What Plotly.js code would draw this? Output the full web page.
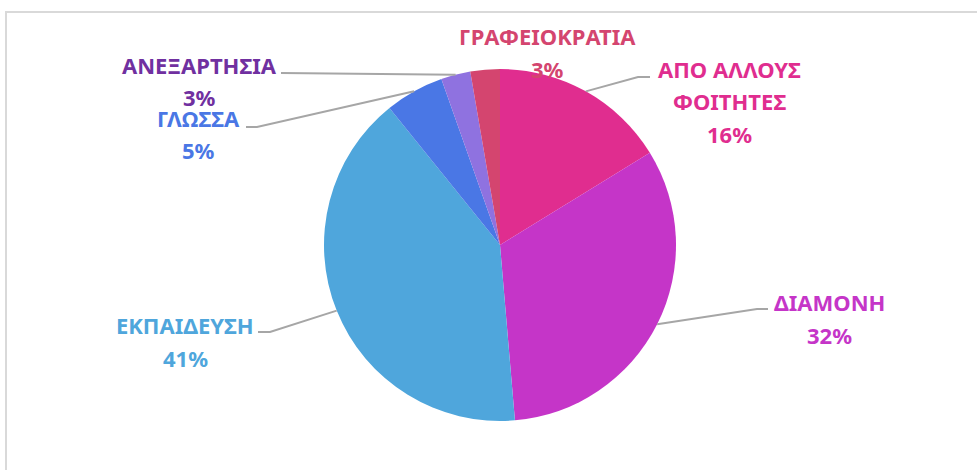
<!DOCTYPE html>
<html>
<head>
<meta charset="utf-8">
<script src="https://cdn.plot.ly/plotly-3.0.1.min.js"></script>
<style>
  html, body { margin: 0; padding: 0; background: #fff; overflow: hidden; }
  #frame { position: absolute; left: 5px; top: 11px; width: 990px; height: 480px;
           border-left: 2px solid #d9d9d9; border-top: 2px solid #d9d9d9; }
  #chart { position: absolute; left: 0; top: 0; width: 977px; height: 470px; }
</style>
</head>
<body>
<div id="frame"></div>
<div id="chart"></div>
<script>
// ---- data (counts; percentages shown are rounded) ----
const categories = ['ΑΠΟ ΑΛΛΟΥΣ ΦΟΙΤΗΤΕΣ', 'ΔΙΑΜΟΝΗ', 'ΕΚΠΑΙΔΕΥΣΗ', 'ΓΛΩΣΣΑ', 'ΑΝΕΞΑΡΤΗΣΙΑ', 'ΓΡΑΦΕΙΟΚΡΑΤΙΑ'];
const values = [6, 12, 15, 2, 1, 1];
const sliceColors = ['#E02D8F', '#C535C8', '#4FA6DC', '#4A77E5', '#8F72E0', '#D4456F'];
const textColors  = ['#E02D8F', '#C535C8', '#4FA6DC', '#4A77E5', '#7030A0', '#D4456F'];

// ---- layout constants (pixels) ----
const W = 977, H = 470;
const CX = 500, CY = 245, R = 176;
const px = x => x / W;
const py = y => 1 - y / H;

// label placement: centre x, first-line y, wrapped lines, leader elbow points (null = no leader)
const labelPos = [
  {x: 729, y: 69,  lines: ['ΑΠΟ ΑΛΛΟΥΣ', 'ΦΟΙΤΗΤΕΣ'], leader: [[650, 77], [638, 77]]},
  {x: 829, y: 302, lines: null, leader: [[768, 309], [757, 309]]},
  {x: 185, y: 325, lines: null, leader: [[258, 332], [270, 332]]},
  {x: 198, y: 118, lines: null, leader: [[246, 127], [257, 127]]},
  {x: 199, y: 65,  lines: null, leader: [[281, 73]]},
  {x: 547, y: 36,  lines: null, leader: null}
];
const lineGap = 32.5;
const FONT = 'Noto Sans, Open Sans, sans-serif';

const total = values.reduce((a, b) => a + b, 0);
const annotations = [];
const shapes = [];
let cum = 0;
categories.forEach((name, i) => {
  const mid = (cum + values[i] / 2) / total * 2 * Math.PI;
  cum += values[i];
  const lp = labelPos[i];
  const lines = (lp.lines || [name]).concat([Math.round(values[i] / total * 100) + '%']);
  lines.forEach((t, k) => {
    annotations.push({
      xref: 'paper', yref: 'paper', x: px(lp.x), y: py(lp.y + k * lineGap),
      xanchor: 'center', yanchor: 'middle', showarrow: false,
      text: '<b>' + t + '</b>',
      font: {family: FONT, size: 22, color: textColors[i]}
    });
  });
  if (lp.leader) {
    const ex = CX + R * Math.sin(mid), ey = CY - R * Math.cos(mid);
    const pts = lp.leader.concat([[ex, ey]]);
    const path = pts.map((p, k) => (k ? 'L' : 'M') + px(p[0]) + ',' + py(p[1])).join(' ');
    shapes.push({type: 'path', xref: 'paper', yref: 'paper', path: path,
                 line: {color: '#A6A6A6', width: 2}});
  }
});

const trace = {
  type: 'pie',
  labels: categories,
  values: values,
  sort: false,
  direction: 'clockwise',
  rotation: 0,
  textinfo: 'none',
  hoverinfo: 'label+percent',
  marker: {colors: sliceColors, line: {width: 0}},
  domain: {x: [px(CX - R), px(CX + R)], y: [py(CY + R), py(CY - R)]},
  showlegend: false
};

Plotly.newPlot('chart', [trace], {
  width: W, height: H,
  margin: {l: 0, r: 0, t: 0, b: 0},
  paper_bgcolor: 'rgba(0,0,0,0)',
  plot_bgcolor: 'rgba(0,0,0,0)',
  showlegend: false,
  annotations: annotations,
  shapes: shapes
}, {displayModeBar: false, staticPlot: true});
</script>
</body>
</html>
